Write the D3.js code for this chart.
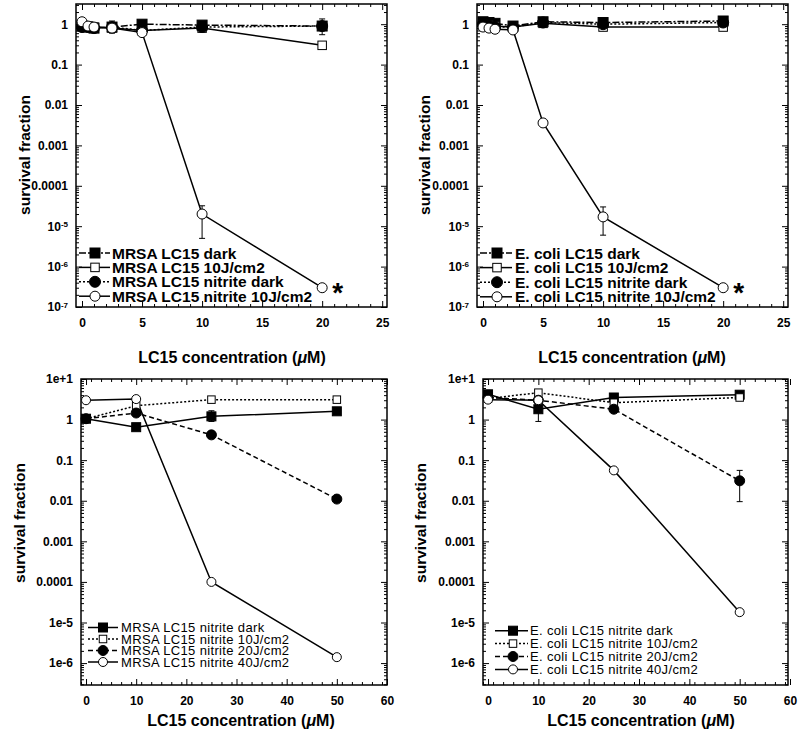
<!DOCTYPE html>
<html>
<head>
<meta charset="utf-8">
<script src="https://cdn.jsdelivr.net/npm/d3@7"></script>
<style>
body { margin: 0; background: #fff; }
svg { display: block; font-family: "Liberation Sans", Arial, Helvetica, sans-serif; }
</style>
</head>
<body>
<svg id="chart" width="800" height="730"></svg>
<script>
// ---- data (survival fraction vs LC15 concentration, uM) ----
var topX = [0, 0.5, 1, 2.5, 5, 10, 20];
var mrsaDark     = [0.9, 0.85, 0.8, 0.85, 1.0, 0.95, 0.9];
var mrsa10J      = [0.9, 0.9, 0.85, 0.8, 0.7, 0.8, 0.3];
var mrsaNitDark  = [0.85, 0.85, 0.8, 0.85, 0.7, 0.85, 0.9];
var mrsaNit10J   = [1.15, 0.9, 0.85, 0.8, 0.62, 2e-5, 3e-7];
var ecoliDark    = [1.15, 1.1, 1.05, 0.9, 1.15, 1.1, 1.2];
var ecoli10J     = [1.0, 0.95, 0.9, 0.85, 1.05, 0.85, 0.85];
var ecoliNitDark = [1.0, 0.9, 0.85, 0.85, 1.1, 1.0, 1.1];
var ecoliNit10J  = [0.85, 0.8, 0.75, 0.72, 3.6e-3, 1.7e-5, 3e-7];

var bottomX = [0, 10, 25, 50];
var mrsaN_dark = [1.05, 0.65, 1.2, 1.6];
var mrsaN_10J  = [1.05, 2.2, 3.1, 3.1];
var mrsaN_20J  = [1.05, 1.45, 0.42, 0.011];
var mrsaN_40J  = [3.0, 3.2, 1e-4, 1.4e-6];
var ecoliN_dark = [4.2, 1.8, 3.5, 4.1];
var ecoliN_10J  = [3.3, 4.6, 2.6, 3.5];
var ecoliN_20J  = [3.5, 3.0, 1.8, 0.031];
var ecoliN_40J  = [3.1, 3.0, 0.056, 1.8e-5];

// error bars [low, high], null where none is drawn
var mrsaDarkErr    = [null, null, null, null, null, null, [0.55, 1.35]];
var mrsaNitDarkErr = [null, null, null, [0.6, 1.2], null, null, null];
var mrsaNit10JErr  = [null, null, null, null, null, [5e-6, 3.2e-5], null];
var ecoli10JErr    = [null, null, null, null, null, null, [0.75, 1.0]];
var ecoliNit10JErr = [null, null, null, null, null, [6e-6, 3e-5], null];
var mrsaN_darkErr  = [null, null, [0.9, 1.65], null];
var mrsaN_10JErr   = [null, [1.8, 2.6], [2.8, 3.4], null];
var mrsaN_40JErr   = [null, null, null, [1.2e-6, 1.6e-6]];
var ecoliN_darkErr = [null, [0.9, 3.0], null, null];
var ecoliN_20JErr  = [null, null, null, [0.0095, 0.056]];
var ecoliN_40JErr  = [null, null, null, [1.55e-5, 2.05e-5]];

var topNamesMrsa  = ["MRSA LC15 dark", "MRSA LC15 10J/cm2", "MRSA LC15 nitrite dark", "MRSA LC15 nitrite 10J/cm2"];
var topNamesEcoli = ["E. coli LC15 dark", "E. coli LC15 10J/cm2", "E. coli LC15 nitrite dark", "E. coli LC15 nitrite 10J/cm2"];
var botNamesMrsa  = ["MRSA LC15 nitrite dark", "MRSA LC15 nitrite 10J/cm2", "MRSA LC15 nitrite 20J/cm2", "MRSA LC15 nitrite 40J/cm2"];
var botNamesEcoli = ["E. coli LC15 nitrite dark", "E. coli LC15 nitrite 10J/cm2", "E. coli LC15 nitrite 20J/cm2", "E. coli LC15 nitrite 40J/cm2"];

var topXTicks = [0, 5, 10, 15, 20, 25];
var bottomXTicks = [0, 10, 20, 30, 40, 50, 60];
var topYTicks = [1, 0.1, 0.01, 0.001, 1e-4, 1e-5, 1e-6, 1e-7];
var topYLabels = ["1", "0.1", "0.01", "0.001", "0.0001", "10^-5", "10^-6", "10^-7"];
var bottomYTicks = [10, 1, 0.1, 0.01, 0.001, 1e-4, 1e-5, 1e-6];
var bottomYLabels = ["1e+1", "1", "0.1", "0.01", "0.001", "0.0001", "1e-5", "1e-6"];

// ---- styles ----
var topStyles = [
  { marker: "sqFill", dash: "7,2,2,2" },
  { marker: "sqOpen", dash: null },
  { marker: "ciFill", dash: "2,2" },
  { marker: "ciOpen", dash: null }
];
var botStyles = [
  { marker: "sqFill", dash: null },
  { marker: "sqOpen", dash: "2,2" },
  { marker: "ciFill", dash: "5,3" },
  { marker: "ciOpen", dash: null }
];

var svg = d3.select("#chart");

function series(names, xs, ys, errs) {
  return names.map(function (n, i) {
    return {
      name: n,
      points: xs.map(function (x, j) { return { x: x, y: ys[i][j], err: errs[i] ? errs[i][j] : null }; })
    };
  });
}

var panels = [
  {
    left: 76, right: 387, top: 4, bottom: 307,
    xDomain: [-0.5, 25.4], yDomain: [1e-7, Math.pow(10, 0.5)],
    xTicks: topXTicks, xMinor: 1, yTicks: topYTicks, yLabels: topYLabels,
    data: series(topNamesMrsa, topX, [mrsaDark, mrsa10J, mrsaNitDark, mrsaNit10J], [mrsaDarkErr, null, mrsaNitDarkErr, mrsaNit10JErr]),
    styles: topStyles, big: true,
    legend: { x0: 79, x1: 110, xm: 95, xt: 112, y: 253, step: 14.4, size: 15.5, weight: "bold", ls: 0 },
    yTitle: [25, 155], xTitle: [232, 363], star: [21.3, 3e-7]
  },
  {
    left: 477, right: 788, top: 4, bottom: 307,
    xDomain: [-0.5, 25.4], yDomain: [1e-7, Math.pow(10, 0.5)],
    xTicks: topXTicks, xMinor: 1, yTicks: topYTicks, yLabels: topYLabels,
    data: series(topNamesEcoli, topX, [ecoliDark, ecoli10J, ecoliNitDark, ecoliNit10J], [null, ecoli10JErr, null, ecoliNit10JErr]),
    styles: topStyles, big: true,
    legend: { x0: 480, x1: 512, xm: 497, xt: 515, y: 253, step: 14.6, size: 15.5, weight: "bold", ls: 0 },
    yTitle: [425, 155], xTitle: [632, 363], star: [21.3, 3e-7]
  },
  {
    left: 81, right: 387, top: 379, bottom: 685,
    xDomain: [-1, 60], yDomain: [Math.pow(10, -6.54), 10],
    xTicks: bottomXTicks, xMinor: 2, yTicks: bottomYTicks, yLabels: bottomYLabels,
    data: series(botNamesMrsa, bottomX, [mrsaN_dark, mrsaN_10J, mrsaN_20J, mrsaN_40J], [mrsaN_darkErr, mrsaN_10JErr, null, mrsaN_40JErr]),
    styles: botStyles, big: false,
    legend: { x0: 88, x1: 118, xm: 103, xt: 121, y: 627.5, step: 11.5, size: 13, weight: "normal", ls: 0.35 },
    yTitle: [20, 523], xTitle: [241, 726], star: null
  },
  {
    left: 483, right: 788, top: 379, bottom: 685,
    xDomain: [-1, 59.6], yDomain: [Math.pow(10, -6.54), 10],
    xTicks: bottomXTicks, xMinor: 2, yTicks: bottomYTicks, yLabels: bottomYLabels,
    data: series(botNamesEcoli, bottomX, [ecoliN_dark, ecoliN_10J, ecoliN_20J, ecoliN_40J], [ecoliN_darkErr, null, ecoliN_20JErr, ecoliN_40JErr]),
    styles: botStyles, big: false,
    legend: { x0: 495, x1: 528, xm: 513, xt: 530, y: 630.7, step: 12.9, size: 13, weight: "normal", ls: 0.35 },
    yTitle: [421, 523], xTitle: [641, 726], star: null
  }
];

function drawMarker(sel, type, cx, cy, big) {
  var s = big ? 10 : 9;
  var r = big ? 5.5 : 5;
  if (type === "sqFill" || type === "sqOpen") {
    if (type === "sqOpen") s -= 1.5;
    sel.append("rect")
      .attr("x", cx - s / 2).attr("y", cy - s / 2)
      .attr("width", s).attr("height", s)
      .attr("fill", type === "sqFill" ? "#000" : "#fff")
      .attr("stroke", "#000").attr("stroke-width", 1);
  } else {
    if (type === "ciOpen") r -= 0.5;
    sel.append("circle")
      .attr("cx", cx).attr("cy", cy).attr("r", r)
      .attr("fill", type === "ciFill" ? "#000" : "#fff")
      .attr("stroke", "#000").attr("stroke-width", 1);
  }
}

function drawPanel(p) {
  var x = d3.scaleLinear().domain(p.xDomain).range([p.left, p.right]);
  var y = d3.scaleLog().domain(p.yDomain).range([p.bottom, p.top]);
  var g = svg.append("g");

  var xMinor = d3.range(Math.ceil(p.xDomain[0]), p.xDomain[1] + 0.001, p.xMinor)
    .filter(function (v) { return p.xTicks.indexOf(v) < 0; });
  var yMinor = [];
  for (var e = -8; e <= 1; e++) {
    for (var m = 2; m <= 9; m++) {
      var v = m * Math.pow(10, e);
      if (v > p.yDomain[0] && v < p.yDomain[1]) yMinor.push(v);
    }
  }

  // minor ticks on all four sides
  g.append("g").attr("transform", "translate(0," + p.bottom + ")")
    .call(d3.axisBottom(x).tickValues(xMinor).tickSize(-3).tickFormat(""));
  g.append("g").attr("transform", "translate(0," + p.top + ")")
    .call(d3.axisTop(x).tickValues(xMinor).tickSize(-3).tickFormat(""));
  g.append("g").attr("transform", "translate(" + p.left + ",0)")
    .call(d3.axisLeft(y).tickValues(yMinor).tickSize(-3).tickFormat(""));
  g.append("g").attr("transform", "translate(" + p.right + ",0)")
    .call(d3.axisRight(y).tickValues(yMinor).tickSize(-3).tickFormat(""));

  // major ticks + labels
  g.append("g").attr("class", "xax").attr("transform", "translate(0," + p.bottom + ")")
    .call(d3.axisBottom(x).tickValues(p.xTicks).tickSize(-6).tickPadding(11).tickFormat(d3.format("d")));
  g.append("g").attr("transform", "translate(0," + p.top + ")")
    .call(d3.axisTop(x).tickValues(p.xTicks).tickSize(-6).tickFormat(""));
  g.append("g").attr("class", "yax").attr("transform", "translate(" + p.left + ",0)")
    .call(d3.axisLeft(y).tickValues(p.yTicks).tickSize(-6).tickPadding(8)
      .tickFormat(function (d, i) { return p.yLabels[i]; }));
  g.append("g").attr("transform", "translate(" + p.right + ",0)")
    .call(d3.axisRight(y).tickValues(p.yTicks).tickSize(-6).tickFormat(""));

  g.selectAll(".domain").remove();
  g.selectAll(".tick line").attr("stroke", "#000").attr("stroke-width", 1);
  g.selectAll(".xax text, .yax text")
    .attr("fill", "#000").attr("font-size", 12).attr("font-weight", "bold")
    .attr("font-family", "'Liberation Sans', Arial, sans-serif");
  g.selectAll(".yax text").each(function () {
    var t = d3.select(this), s = t.text();
    if (s.indexOf("^") > 0) {
      var parts = s.split("^");
      t.text("");
      t.append("tspan").text(parts[0]);
      t.append("tspan").attr("dy", "-0.45em").attr("font-size", 8).text(parts[1]);
    }
  });

  // frame
  g.append("rect")
    .attr("x", p.left).attr("y", p.top)
    .attr("width", p.right - p.left).attr("height", p.bottom - p.top)
    .attr("fill", "none").attr("stroke", "#000").attr("stroke-width", 1.5);

  var line = d3.line().x(function (d) { return x(d.x); }).y(function (d) { return y(d.y); });
  var plot = g.append("g");

  p.data.forEach(function (s, i) {
    plot.append("path")
      .datum(s.points)
      .attr("d", line)
      .attr("fill", "none").attr("stroke", "#000").attr("stroke-width", 1.5)
      .attr("stroke-dasharray", p.styles[i].dash);
  });
  p.data.forEach(function (s) {
    s.points.filter(function (d) { return d.err; }).forEach(function (d) {
      var cx = x(d.x), y0 = y(d.err[0]), y1 = y(d.err[1]);
      var eb = plot.append("g").attr("stroke", "#000").attr("stroke-width", 1);
      eb.append("line").attr("x1", cx).attr("x2", cx).attr("y1", y0).attr("y2", y1);
      eb.append("line").attr("x1", cx - 3).attr("x2", cx + 3).attr("y1", y0).attr("y2", y0);
      eb.append("line").attr("x1", cx - 3).attr("x2", cx + 3).attr("y1", y1).attr("y2", y1);
    });
  });
  p.data.forEach(function (s, i) {
    s.points.forEach(function (d) {
      drawMarker(plot, p.styles[i].marker, x(d.x), y(d.y), p.big);
    });
  });

  // legend
  var L = p.legend;
  p.data.forEach(function (s, i) {
    var ly = L.y + i * L.step;
    var row = g.append("g");
    row.append("line")
      .attr("x1", L.x0).attr("x2", L.x1).attr("y1", ly).attr("y2", ly)
      .attr("stroke", "#000").attr("stroke-width", 1.5)
      .attr("stroke-dasharray", p.styles[i].dash);
    drawMarker(row, p.styles[i].marker, L.xm, ly, p.big);
    row.append("text")
      .attr("x", L.xt).attr("y", ly).attr("dy", "0.36em")
      .attr("font-size", L.size).attr("font-weight", L.weight)
      .attr("letter-spacing", L.ls)
      .text(s.name);
  });

  // axis titles
  g.append("text")
    .attr("transform", "translate(" + p.yTitle[0] + "," + p.yTitle[1] + ") rotate(-90)")
    .attr("text-anchor", "middle").attr("dy", "0.35em")
    .attr("font-size", 15.5).attr("font-weight", "bold")
    .text("survival fraction");
  var xt = g.append("text")
    .attr("x", p.xTitle[0]).attr("y", p.xTitle[1])
    .attr("text-anchor", "middle")
    .attr("font-size", 16).attr("font-weight", "bold");
  xt.append("tspan").text("LC15 concentration (");
  xt.append("tspan").attr("font-style", "italic").text("\u03bc");
  xt.append("tspan").text("M)");

  if (p.star) {
    g.append("text")
      .attr("x", x(p.star[0])).attr("y", y(p.star[1]) + 14)
      .attr("text-anchor", "middle")
      .attr("font-size", 28).attr("font-weight", "bold")
      .text("*");
  }
}

panels.forEach(drawPanel);
</script>
</body>
</html>
